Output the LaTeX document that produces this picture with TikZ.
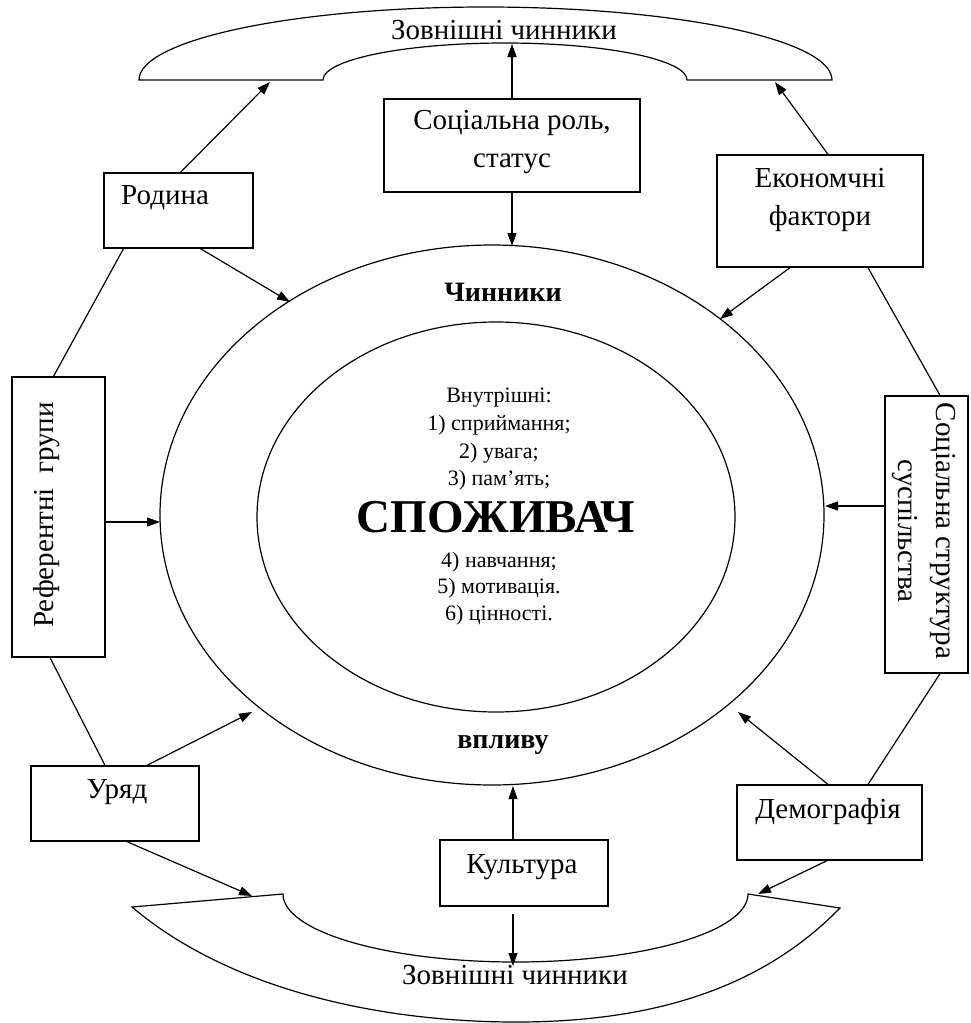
\documentclass[tikz,border=0pt]{standalone}
\usepackage{fontspec}
\setmainfont{Liberation Serif}
\usetikzlibrary{arrows.meta,shapes.geometric,calc}
\begin{document}
\begin{tikzpicture}[x=1pt,y=-1pt,
  box/.style={draw, line width=1.3pt, inner sep=0pt},
  ln/.style={line width=1.2pt},
  arr/.style={line width=1.2pt, -{Triangle[length=13pt,width=9pt]}},
  txt/.style={font=\fontsize{29}{38}\selectfont, inner sep=0pt, align=center},
  itxt/.style={font=\fontsize{22}{27}\selectfont, inner sep=0pt},
  btxt/.style={font=\fontsize{28}{32}\selectfont\bfseries, inner sep=0pt},
]
\useasboundingbox (0,0) rectangle (971,1023);

% ellipses
\node[draw, ellipse, ln, minimum width=664pt, minimum height=540pt, inner sep=0pt] (outer) at (492,515) {};
\node[draw, ellipse, ln, minimum width=478pt, minimum height=390pt, inner sep=0pt] (inner) at (496,517) {};

% banners
\draw[ln] (139,80) -- (323,80) arc[start angle=180, end angle=360, x radius=182, y radius=37]
  -- (832,80) arc[start angle=0, end angle=-180, x radius=346.5, y radius=73] -- cycle;
\draw[ln] (132,907) -- (283,894) arc[start angle=180, end angle=0, x radius=232.5, y radius=68]
  -- (840,908) .. controls (760,990) and (650,1022) .. (516,1022)
  .. controls (380,1022) and (230,990) .. (132,907) -- cycle;
\node[txt] (topT) at (504,30) {Зовнішні чинники};
\node[txt] (botT) at (515,975) {Зовнішні чинники};

% boxes
\node[box, minimum width=149pt, minimum height=75pt] (rod) at (178.5,210.5) {};
\node[box, minimum width=256pt, minimum height=93pt] (soc) at (512,145.5) {};
\node[box, minimum width=206pt, minimum height=112pt] (eco) at (820,211) {};
\node[box, minimum width=93pt, minimum height=280pt] (ref) at (58.5,517) {};
\node[box, minimum width=83pt, minimum height=277pt] (ss) at (926.5,534.5) {};
\node[box, minimum width=168pt, minimum height=75pt] (ur) at (115,803.5) {};
\node[box, minimum width=185pt, minimum height=75pt] (dem) at (829.5,822.5) {};
\node[box, minimum width=168pt, minimum height=66pt] (kul) at (524,873) {};

% box texts
\node[txt, anchor=west] (rodT) at (121,198) {Родина};
\node[txt] (socT) at (512,142.5) {Соціальна роль,\\статус};
\node[txt] (ecoT) at (820,200) {Економчні\\фактори};
\node[txt, rotate=90] (refT) at (47,515) {Референтні~~групи};
\node[txt, rotate=-90] (ssT) at (923.5,531) {Соціальна структура\\суспільства};
\node[txt] (urT) at (117,792) {Уряд};
\node[txt] (demT) at (828,812) {Демографія};
\node[txt] (kulT) at (522,867) {Культура};

% inner texts
\node[btxt] (ch) at (503,292) {Чинники};
\node[btxt] (vp) at (503,745) {впливу};
\node[itxt] (i0) at (499,398) {Внутрішні:};
\node[itxt] (i1) at (499,425) {1) сприймання;};
\node[itxt] (i2) at (499,453) {2) увага;};
\node[itxt] (i3) at (499,480) {3) пам’ять;};
\node[font=\fontsize{47}{52}\selectfont\bfseries, inner sep=0pt] (sp) at (496,517) {СПОЖИВАЧ};
\node[itxt] (i4) at (499,562) {4) навчання;};
\node[itxt] (i5) at (499,588) {5) мотивація.};
\node[itxt] (i6) at (499,615) {6) цінності.};

% tips
\coordinate (bTopL) at (270,82);
\coordinate (bTopM) at (512,44);
\coordinate (bTopR) at (775,82);
\coordinate (bBotL) at (252,896);
\coordinate (bBotM) at (513,966);
\coordinate (bBotR) at (758,894);
\coordinate (oRod) at (290,302);
\coordinate (oSoc) at (512,246);
\coordinate (oEco) at (720,319);
\coordinate (oRef) at (160,522);
\coordinate (oSS) at (825,506);
\coordinate (oUr) at (252,712);
\coordinate (oDem) at (738,712);
\coordinate (oKul) at (513,786);

% connectors
\draw[arr] ($(rod.north)+(2,0)$) -- (bTopL);
\draw[arr] ($(rod.south)+(22,0)$) -- (oRod);
\draw[ln] ($(rod.south)+(-55,0)$) -- ($(ref.north)+(-5,0)$);
\draw[arr] (soc.north) -- (bTopM);
\draw[arr] (soc.south) -- (oSoc);
\draw[arr] ($(eco.north)+(8,0)$) -- (bTopR);
\draw[arr] ($(eco.south)+(-30,0)$) -- (oEco);
\draw[ln] ($(eco.south)+(48,0)$) -- ($(ss.north)+(13.5,0)$);
\draw[arr] ($(ss.west)+(0,-28.5)$) -- (oSS);
\draw[ln] ($(ss.south)+(13.5,0)$) -- ($(dem.north)+(38.5,0)$);
\draw[arr] ($(dem.north)+(-1.5,0)$) -- (oDem);
\draw[arr] ($(dem.south)+(-2.5,0)$) -- (bBotR);
\draw[arr] ($(kul.north)+(-11,0)$) -- (oKul);
\draw[arr, shorten <=7pt] ($(kul.south)+(-11,0)$) -- (bBotM);
\draw[arr] ($(ur.north)+(32,0)$) -- (oUr);
\draw[arr] ($(ur.south)+(12,0)$) -- (bBotL);
\draw[ln] ($(ur.north)+(-10,0)$) -- ($(ref.south)+(-8.5,0)$);
\draw[arr] ($(ref.east)+(0,5)$) -- (oRef);
\end{tikzpicture}
\end{document}
